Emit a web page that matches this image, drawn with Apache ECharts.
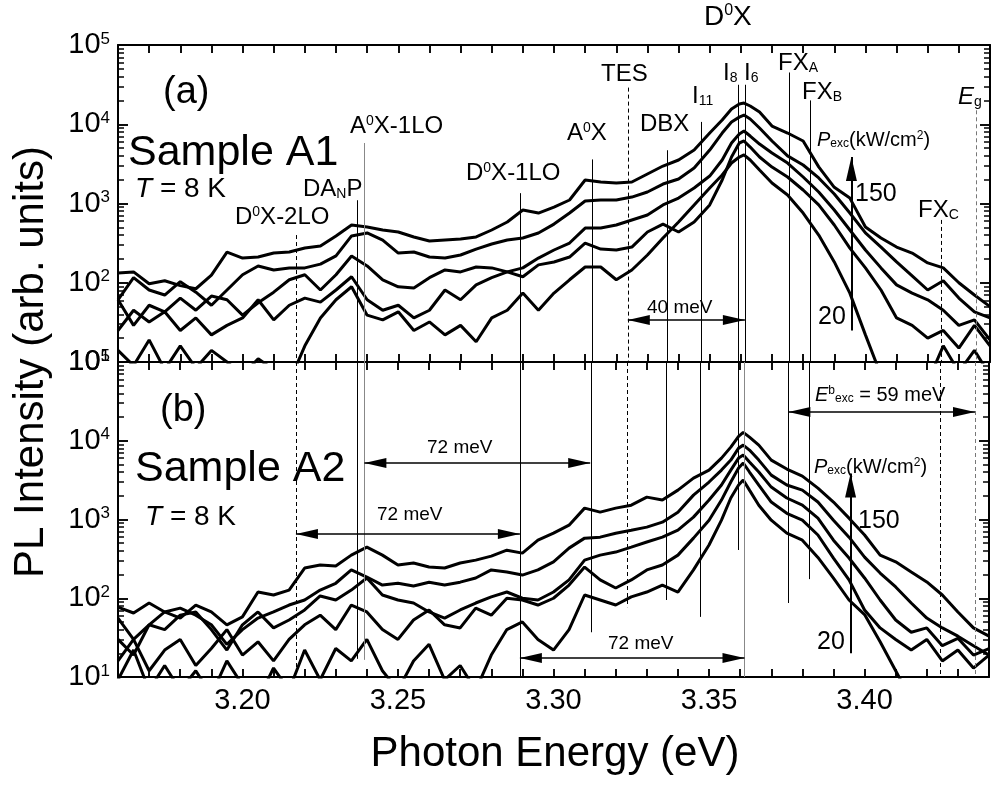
<!DOCTYPE html>
<html>
<head>
<meta charset="utf-8">
<script src="https://cdn.jsdelivr.net/npm/echarts@6.0.0/dist/echarts.min.js"></script>
<style>
html, body { margin: 0; padding: 0; background: #fff; }
#chart { width: 992px; height: 785px; }
</style>
</head>
<body>
<div id="chart"></div>
<script>
var FONT = '"Liberation Sans", Arial, Helvetica, sans-serif';
var E_MIN = 3.16, E_MAX = 3.44;
var I_MIN = 10, I_MAX = 100000;

// photon energy (eV), shared by all spectra
var energy = [
  3.160, 3.165, 3.170, 3.175, 3.180, 3.185, 3.190, 3.195, 3.200, 3.205,
  3.210, 3.215, 3.220, 3.225, 3.230, 3.235, 3.240, 3.245, 3.250, 3.255,
  3.260, 3.265, 3.270, 3.275, 3.280, 3.285, 3.290, 3.295, 3.300, 3.305,
  3.310, 3.315, 3.320, 3.325, 3.330, 3.335, 3.340, 3.345, 3.350,
  3.354, 3.357, 3.3595, 3.361, 3.363, 3.366,
  3.370, 3.375, 3.380, 3.385, 3.390, 3.395, 3.400, 3.405, 3.410, 3.415, 3.420, 3.425, 3.430, 3.435, 3.440
];

// sample A1, highest excitation first
var a1 = [133, 137, 97, 106, 92, 84, 125, 244, 205, 211,
  237, 244, 274, 290, 390, 535, 505, 463, 437, 378,
  336, 346, 356, 378, 463, 584, 828, 758, 900, 1107,
  1980, 1867, 1814, 1867, 2355, 2970, 3540, 4730, 7750,
  11300, 15600, 18000, 18500, 17000, 14270,
  9480, 7750, 6150, 2900, 1600, 1170, 505, 367, 282, 237, 178, 154, 100, 70, 50];
var a2 = [61, 116, 81, 70, 103, 76, 52, 81, 126, 163,
  145, 154, 154, 172, 218, 390, 425, 346, 237, 244,
  211, 205, 224, 266, 308, 346, 367, 425, 550, 758,
  1076, 1107, 1107, 1205, 1397, 1760, 2040, 2800, 4730,
  7750, 10670, 12300, 13050, 11650, 8960,
  6150, 3990, 3060, 2100, 1317, 758, 425, 282, 183, 122, 81, 106, 64, 43, 36];
var a3 = [61, 29, 52, 43, 64, 45, 68, 61, 39, 56,
  76, 109, 126, 81, 126, 218, 163, 109, 89, 86,
  116, 145, 137, 158, 154, 137, 154, 205, 259, 317,
  490, 490, 535, 620, 715, 960, 1170, 1570, 2220,
  3540, 5800, 7530, 8220, 7100, 5630,
  4340, 3240, 2160, 1397, 828, 463, 259, 154, 94, 74, 61, 45, 29, 34, 19];
var a4 = [25, 45, 32, 43, 25, 36, 22, 29, 36, 61,
  34, 52, 64, 57, 81, 119, 61, 45, 52, 36,
  45, 81, 61, 94, 116, 137, 119, 168, 183, 211,
  317, 266, 259, 282, 437, 550, 437, 584, 960,
  1980, 3860, 5800, 6150, 5150, 3860,
  2880, 2160, 1480, 960, 535, 274, 154, 81, 36, 29, 20, 25, 15, 29, 16];
var a5 = [14, 9, 19, 8, 16, 8.4, 14, 10, 6.8, 11,
  8, 5.6, 16, 36, 61, 89, 39, 34, 43, 25,
  32, 22, 29, 18, 36, 45, 74, 45, 74, 109,
  158, 158, 109, 145, 224, 367, 584, 960, 1570,
  2290, 3240, 3860, 4100, 3540, 2650,
  1814, 1280, 758, 400, 183, 74, 22, 6.8, 5, 7.5, 5.6, 16, 7.5, 14, 6.8];

// sample A2
var b1 = [77, 65, 87, 67, 56, 82, 67, 46, 58, 120,
  110, 127, 242, 264, 257, 353, 446, 353, 264, 280,
  249, 242, 280, 305, 343, 408, 374, 546, 670, 848,
  1395, 1240, 1395, 1520, 1925, 1765, 2360, 3350, 4240,
  6020, 8300, 11400, 12800, 11100, 8800,
  5680, 4370, 3560, 2500, 1665, 1040, 635, 353, 290, 216, 161, 110, 67, 42, 33];
var b2 = [56, 30, 46, 67, 75, 61, 46, 26, 40, 56,
  67, 82, 95, 127, 155, 229, 186, 147, 155, 143,
  160, 147, 160, 181, 229, 216, 197, 229, 290, 433,
  580, 597, 670, 732, 800, 925, 1240, 2040, 2990,
  4240, 5680, 8060, 8800, 7610, 5680,
  3660, 2740, 2360, 1665, 980, 597, 333, 209, 139, 87, 56, 42, 33, 25, 19];
var b3 = [30, 19, 46, 40, 61, 67, 40, 22, 46, 67,
  42, 53, 71, 107, 95, 127, 181, 110, 95, 87,
  67, 56, 71, 87, 104, 120, 100, 95, 120, 171,
  305, 353, 386, 446, 518, 597, 732, 1072, 1765,
  2740, 4240, 6020, 6590, 5370, 4010,
  2580, 1875, 1520, 1040, 546, 324, 181, 95, 53, 37, 42, 25, 31, 19, 23];
var b4 = [16, 30, 12, 22, 30, 14, 23, 40, 19, 28,
  16, 30, 46, 61, 40, 82, 67, 40, 30, 53,
  71, 46, 42, 75, 61, 100, 95, 82, 100, 147,
  249, 171, 135, 171, 229, 264, 353, 580, 980,
  1765, 2990, 4500, 5220, 4010, 2740,
  1665, 1200, 980, 635, 324, 171, 71, 42, 30, 22, 30, 16, 22, 13, 19];
var b5 = [9.2, 22, 6.8, 14, 6.8, 12, 5.9, 16, 7.9, 5.1,
  13, 6.8, 22, 9.2, 23, 16, 30, 12, 6.8, 16,
  26, 9.2, 14, 6.8, 19, 40, 50, 30, 22, 40,
  110, 95, 82, 104, 120, 147, 120, 229, 475,
  980, 1875, 2740, 3180, 2360, 1520,
  980, 670, 546, 330, 180, 95, 62, 28, 12, 5.1, 6.8, 5.1, 5.9, 4.4, 5.1];

// line positions: D0X-2LO, DANP, A0X-1LO, D0X-1LO, A0X, TES, DBX, I11, I8, I6, FXA, FXB, FXC, Eg
var markEnergy = [3.2172, 3.2368, 3.2392, 3.2892, 3.3122, 3.3237, 3.3364, 3.3472, 3.3593, 3.3614, 3.3755, 3.3822, 3.4244, 3.4355];
var markTopA = [400, 1100, 5800, 1350, 3600, 29000, 4700, 10700, 31500, 31500, 45000, 20000, 620, 15000];
var markLowB = [10, 17, 16.5, 10, 37, 77, 95, 58, 410, 10, 87, 175, 10, 10];
// energy separations: [from, to, level]
var arrowsA = [[3.3237, 3.3613, 34]];
var arrowsB = [[3.2392, 3.3118, 5200], [3.2172, 3.2892, 655], [3.2892, 3.3614, 17.4], [3.3755, 3.4355, 23200]];
var powerArrowE = 3.3955;
var powerA = [25, 3860];
var powerB = [20, 3830];

// tick values of the frame
var xTickVals = [];
for (var k = 317; k < 344; k++) xTickVals.push(k / 100);
var yMajorVals = [100, 1000, 10000];
var yMinorVals = [];
[10, 100, 1000, 10000].forEach(function (d) {
  for (var m = 2; m <= 9; m++) yMinorVals.push(m * d);
});

// styles of the marker lines
var markDashed = [1, 0, 0, 0, 0, 1, 0, 0, 0, 0, 0, 0, 1, 1];
var markColor = [
  ['#000', '#000', '#888', '#000', '#000', '#000', '#000', '#000', '#000', '#000', '#000', '#000', '#000', '#777'],
  ['#000', '#000', '#888', '#000', '#000', '#000', '#000', '#000', '#000', '#888', '#000', '#000', '#000', '#777']
];
// tick lengths, as fractions of the plot width / height
var GRID_W = 872, GRID_H = [317, 315];

var chart = echarts.init(document.getElementById('chart'), null, { renderer: 'canvas' });

function xAx(gi, pos, labels) {
  return {
    type: 'value', gridIndex: gi, position: pos, min: E_MIN, max: E_MAX, interval: 0.01,
    axisLine: { show: true, onZero: false, lineStyle: { color: '#000', width: 2 } },
    axisTick: { show: true, inside: true, length: 8, lineStyle: { color: '#000', width: 1.5 } },
    axisLabel: {
      show: labels, color: '#000', fontFamily: FONT, fontSize: 29, margin: 9,
      formatter: function (v) {
        var k = Math.round(v * 100);
        return k % 5 === 0 ? (k / 100).toFixed(2) : '';
      }
    },
    splitLine: { show: false }
  };
}

function yAx(gi, pos, labels) {
  return {
    type: 'log', logBase: 10, gridIndex: gi, position: pos, min: I_MIN, max: I_MAX,
    axisLine: { show: true, onZero: false, lineStyle: { color: '#000', width: 2 } },
    axisTick: { show: true, inside: true, length: 10, lineStyle: { color: '#000', width: 1.5 } },
    axisLabel: {
      show: labels, color: '#000', margin: 8, showMinLabel: true, showMaxLabel: true,
      fontFamily: FONT, fontSize: 29,
      formatter: function (v) {
        return '10{s|' + Math.round(Math.log10(v)) + '}';
      },
      rich: {
        s: { fontFamily: FONT, fontSize: 17, color: '#000', verticalAlign: 'top', lineHeight: 8 }
      }
    },
    splitLine: { show: false }
  };
}

function curve(vals, gi) {
  return {
    type: 'line', xAxisIndex: gi * 2, yAxisIndex: gi * 2,
    data: energy.map(function (e, i) { return [e, vals[i]]; }),
    showSymbol: false, symbol: 'none', clip: true, silent: true, z: 4,
    lineStyle: { color: '#000', width: 3 }, itemStyle: { color: '#000' }
  };
}

function markerSeries(gi) {
  var out = [];
  markEnergy.forEach(function (e, i) {
    var top = gi === 0 ? markTopA[i] : I_MAX;
    var low = gi === 0 ? I_MIN : markLowB[i];
    out.push([
      { coord: [e, top], lineStyle: { color: markColor[gi][i], width: 1, type: markDashed[i] ? [4, 3] : 'solid' } },
      { coord: [e, low] }
    ]);
  });
  (gi === 0 ? arrowsA : arrowsB).forEach(function (a) {
    out.push([
      { coord: [a[0], a[2]], symbol: 'triangle', symbolSize: [10, 22], symbolOffset: [0, 11],
        lineStyle: { color: '#000', width: 1.5, type: 'solid' } },
      { coord: [a[1], a[2]], symbol: 'triangle', symbolSize: [10, 22], symbolOffset: [0, 11] }
    ]);
  });
  var p = gi === 0 ? powerA : powerB;
  out.push([
    { coord: [powerArrowE, p[0]], symbol: 'none', lineStyle: { color: '#000', width: 2, type: 'solid' } },
    { coord: [powerArrowE, p[1]], symbol: 'triangle', symbolSize: [11, 24], symbolOffset: [0, 12] }
  ]);
  return {
    type: 'line', xAxisIndex: gi * 2, yAxisIndex: gi * 2, data: [], silent: true,
    markLine: {
      silent: true, symbol: ['none', 'none'], label: { show: false },
      emphasis: { disabled: true }, data: out
    }
  };
}

// frame ticks drawn through the same scales
function tickSeries(gi) {
  var out = [];
  var st = { color: '#000', width: 1.5, type: 'solid' };
  var xr = Math.pow(10, 4 * 8 / GRID_H[gi]);        // 8 px, as a factor on the log axis
  var dxMaj = (E_MAX - E_MIN) * 10 / GRID_W;        // 10 px on the energy axis
  var dxMin = (E_MAX - E_MIN) * 6 / GRID_W;         // 6 px
  xTickVals.forEach(function (e) {
    out.push([{ coord: [e, I_MIN], lineStyle: st }, { coord: [e, I_MIN * xr] }]);
    out.push([{ coord: [e, I_MAX], lineStyle: st }, { coord: [e, I_MAX / xr] }]);
  });
  yMajorVals.forEach(function (v) {
    out.push([{ coord: [E_MIN, v], lineStyle: st }, { coord: [E_MIN + dxMaj, v] }]);
    out.push([{ coord: [E_MAX, v], lineStyle: st }, { coord: [E_MAX - dxMaj, v] }]);
  });
  yMinorVals.forEach(function (v) {
    out.push([{ coord: [E_MIN, v], lineStyle: st }, { coord: [E_MIN + dxMin, v] }]);
    out.push([{ coord: [E_MAX, v], lineStyle: st }, { coord: [E_MAX - dxMin, v] }]);
  });
  return {
    type: 'line', xAxisIndex: gi * 2, yAxisIndex: gi * 2, data: [], silent: true, z: 6,
    markLine: {
      silent: true, symbol: ['none', 'none'], label: { show: false },
      emphasis: { disabled: true }, data: out
    }
  };
}

function txt(x, y, s, size, extra) {
  extra = extra || {};
  var sm = Math.round(size * 0.58);
  return {
    type: 'text', x: x, y: y, silent: true, rotation: extra.rot || 0, z: 10,
    style: {
      text: s, fill: '#000', fontFamily: FONT, fontSize: size,
      align: extra.align || 'left', verticalAlign: 'middle',
      rich: {
        i: { fontFamily: FONT, fontSize: size, fontStyle: 'italic' },
        p: { fontFamily: FONT, fontSize: sm, verticalAlign: 'top', lineHeight: 6 },
        b: { fontFamily: FONT, fontSize: sm, verticalAlign: 'bottom', lineHeight: 6 }
      }
    }
  };
}

var labels = [
  txt(704, 17, 'D{p|0}X', 28),
  txt(163, 93, '(a)', 38),
  txt(128, 153, 'Sample A1', 43),
  txt(135, 189, '{i|T} = 8 K', 28),
  txt(235, 217, 'D{p|0}X-2LO', 24),
  txt(303, 189, 'DA{b|N}P', 24),
  txt(350, 126, 'A{p|0}X-1LO', 24),
  txt(466, 173, 'D{p|0}X-1LO', 24),
  txt(567, 133, 'A{p|0}X', 24),
  txt(601, 74, 'TES', 24),
  txt(640, 124, 'DBX', 24),
  txt(692, 96, 'I{b|11}', 24),
  txt(723, 73, 'I{b|8}', 24),
  txt(744, 73, 'I{b|6}', 24),
  txt(778, 63, 'FX{b|A}', 24),
  txt(802, 92, 'FX{b|B}', 24),
  txt(958, 97, '{i|E}{b|g}', 24),
  txt(817, 140, '{i|P}{b|exc}(kW/cm{p|2})', 20),
  txt(855, 194, '150', 25),
  txt(818, 317, '20', 25),
  txt(918, 210, 'FX{b|C}', 24),
  txt(647, 308, '40 meV', 19),

  txt(160, 411, '(b)', 38),
  txt(135, 469, 'Sample A2', 43),
  txt(145, 517, '{i|T} = 8 K', 28),
  txt(427, 448, '72 meV', 19),
  txt(377, 515, '72 meV', 19),
  txt(608, 644, '72 meV', 19),
  txt(815, 395, '{i|E}{p|b}{b|exc} = 59 meV', 20),
  txt(814, 467, '{i|P}{b|exc}(kW/cm{p|2})', 20),
  txt(858, 521, '150', 25),
  txt(817, 642, '20', 25),

  txt(31, 362, 'PL Intensity (arb. units)', 42, { align: 'center', rot: Math.PI / 2 }),
  txt(555, 754, 'Photon Energy (eV)', 42, { align: 'center' })
];

var option = {
  backgroundColor: '#fff',
  grid: [
    { left: 118, top: 45, width: GRID_W, height: GRID_H[0] },
    { left: 118, top: 362, width: GRID_W, height: GRID_H[1] }
  ],
  xAxis: [xAx(0, 'bottom', false), xAx(0, 'top', false), xAx(1, 'bottom', true), xAx(1, 'top', false)],
  yAxis: [yAx(0, 'left', true), yAx(0, 'right', false), yAx(1, 'left', true), yAx(1, 'right', false)],
  series: [
    curve(a1, 0), curve(a2, 0), curve(a3, 0), curve(a4, 0), curve(a5, 0),
    curve(b1, 1), curve(b2, 1), curve(b3, 1), curve(b4, 1), curve(b5, 1),
    markerSeries(0), markerSeries(1), tickSeries(0), tickSeries(1)
  ],
  graphic: labels
};

chart.setOption(option);
</script>
</body>
</html>
